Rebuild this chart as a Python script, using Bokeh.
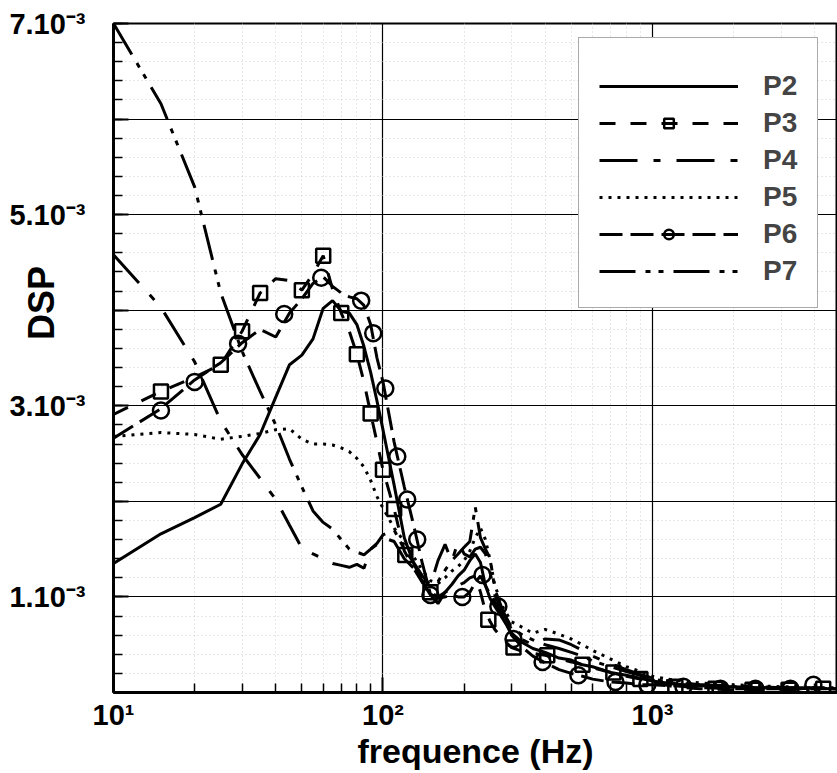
from bokeh.plotting import figure
from bokeh.models import Range1d, FixedTicker, Legend, LegendItem
from bokeh.embed import file_html
from bokeh.resources import INLINE

# ---------------- data (DSP values in units of 1e-3) ----------------
freq_hz = [10, 15, 20, 25, 30, 35, 40, 45, 50, 55, 60, 65, 70, 75, 80, 85, 90, 95, 100,
           110, 120, 130, 140, 150, 160, 170, 180, 190, 200, 210, 220, 230, 240, 250, 260,
           280, 300, 330, 360, 400, 450, 500, 550, 600, 700, 800, 900, 1000,
           1200, 1500, 2000, 2500, 3000, 3500, 4000, 4500, 5000]

dsp_p2 = [1.35, 1.66, 1.83, 1.97, 2.39, 2.70, 3.09, 3.43, 3.53, 3.70, 4.02, 4.10, 3.99, 3.97, 3.85, 3.62, 3.35, 3.05, 2.75,
          2.17, 1.62, 1.35, 1.16, 1.02, 0.93, 1.05, 1.13, 1.22, 1.28, 1.38, 1.45, 1.36, 1.12, 0.98, 0.90,
          0.76, 0.62, 0.52, 0.46, 0.42, 0.36, 0.34, 0.29, 0.27, 0.21, 0.18, 0.15, 0.12,
          0.09, 0.07, 0.06, 0.05, 0.05, 0.04, 0.05, 0.04, 0.04]

dsp_p3 = [2.91, 3.15, 3.30, 3.43, 3.78, 4.18, 4.33, 4.31, 4.21, 4.38, 4.57, 4.22, 3.97, 3.78, 3.54, 3.25, 2.92, 2.62, 2.33,
          1.92, 1.48, 1.30, 1.15, 1.05, 1.00, 1.05, 1.08, 1.12, 1.15, 1.20, 1.22, 1.05, 0.85, 0.74, 0.66,
          0.55, 0.47, 0.43, 0.41, 0.39, 0.35, 0.32, 0.29, 0.26, 0.21, 0.17, 0.14, 0.11,
          0.06, 0.04, 0.03, 0.03, 0.03, 0.03, 0.04, 0.04, 0.04]

dsp_p4 = [4.58, 4.03, 3.46, 2.84, 2.49, 2.24, 2.02, 1.75, 1.51, 1.45, 1.40, 1.35, 1.33, 1.31, 1.34, 1.30, 1.50, 1.55, 1.62,
          1.58, 1.40, 1.30, 1.18, 1.12, 1.38, 1.55, 1.37, 1.58, 1.45, 1.42, 1.50, 1.52, 1.45, 1.25, 1.02,
          0.82, 0.66, 0.55, 0.50, 0.56, 0.55, 0.50, 0.44, 0.38, 0.30, 0.24, 0.19, 0.15,
          0.11, 0.08, 0.07, 0.06, 0.05, 0.05, 0.05, 0.04, 0.04]

dsp_p5 = [2.68, 2.72, 2.70, 2.65, 2.68, 2.71, 2.75, 2.76, 2.65, 2.60, 2.60, 2.59, 2.56, 2.52, 2.45, 2.36, 2.22, 2.05, 1.93,
          1.72, 1.58, 1.42, 1.28, 1.17, 1.14, 1.20, 1.27, 1.32, 1.38, 1.48, 1.62, 1.72, 1.60, 1.38, 1.12,
          0.88, 0.74, 0.68, 0.62, 0.66, 0.61, 0.56, 0.50, 0.44, 0.35, 0.27, 0.22, 0.17,
          0.13, 0.10, 0.08, 0.07, 0.06, 0.06, 0.05, 0.05, 0.05]

dsp_p6 = [2.66, 2.97, 3.27, 3.45, 3.66, 3.80, 3.72, 3.97, 4.12, 4.28, 4.35, 4.25, 4.18, 4.14, 4.12, 4.05, 3.85, 3.50, 3.25,
          2.62, 2.15, 1.75, 1.35, 1.03, 0.99, 1.00, 1.02, 1.00, 1.00, 1.05, 1.15, 1.22, 1.12, 1.02, 0.95,
          0.78, 0.60, 0.47, 0.38, 0.31, 0.24, 0.20, 0.17, 0.14, 0.11, 0.10, 0.08, 0.08,
          0.07, 0.05, 0.04, 0.04, 0.04, 0.04, 0.05, 0.04, 0.04]

dsp_p7 = [7.00, 6.16, 5.29, 4.18, 3.57, 3.15, 2.80, 2.44, 2.15, 1.90, 1.78, 1.71, 1.60, 1.50, 1.47, 1.44, 1.50, 1.56, 1.65,
          1.70, 1.50, 1.36, 1.22, 1.12, 1.16, 1.28, 1.38, 1.45, 1.52, 1.58, 1.94, 1.62, 1.50, 1.40, 1.08,
          0.84, 0.68, 0.60, 0.55, 0.50, 0.46, 0.42, 0.38, 0.33, 0.27, 0.22, 0.18, 0.14,
          0.10, 0.08, 0.06, 0.05, 0.05, 0.05, 0.05, 0.04, 0.04]

p3_marker_hz = [15, 25, 30, 35, 50, 60, 70, 80, 90, 100, 110, 121, 150, 246, 305, 407, 550, 716, 902, 1216, 1713, 2350, 3200, 4300]
p3_marker_dsp = [3.15, 3.43, 3.78, 4.18, 4.21, 4.57, 3.97, 3.54, 2.92, 2.33, 1.92, 1.44, 1.05, 0.76, 0.47, 0.39, 0.29, 0.21, 0.14, 0.06, 0.04, 0.03, 0.03, 0.04]

p6_marker_hz = [15, 20, 29, 43, 59, 83, 92, 102, 113, 123, 134, 150, 197, 234, 268, 305, 391, 531, 729, 957, 1303, 1788, 2410, 3250, 3955]
p6_marker_dsp = [2.95, 3.25, 3.65, 3.96, 4.34, 4.10, 3.76, 3.18, 2.47, 2.02, 1.60, 1.02, 1.00, 1.23, 0.90, 0.56, 0.32, 0.18, 0.11, 0.08, 0.06, 0.04, 0.04, 0.04, 0.08]

x_ticks = [10, 100, 1000]
x_tick_labels = ["10\u00b9", "10\u00b2", "10\u00b3"]
y_ticks = [0, 1, 2, 3, 4, 5, 6, 7]
y_tick_labels = ["", "1.10\u207b\u00b3", "", "3.10\u207b\u00b3", "", "5.10\u207b\u00b3", "", "7.10\u207b\u00b3"]
series_names = ["P2", "P3", "P4", "P5", "P6", "P7"]
y_title = "\u00a0" * 11 + "DSP"

FONT = "Liberation Sans"

p = figure(width=837, height=772, x_axis_type="log",
           x_range=Range1d(10, 4860), y_range=Range1d(0, 7),
           output_backend="svg", toolbar_location=None,
           min_border_left=113, min_border_right=0, min_border_top=23, min_border_bottom=80)

x_minor = [m * d for d in (10, 100, 1000) for m in range(2, 10)]
y_minor = [i * 0.2 for i in range(36)]
p.xaxis.ticker = FixedTicker(ticks=x_ticks, minor_ticks=x_minor)
p.yaxis.ticker = FixedTicker(ticks=y_ticks, minor_ticks=y_minor)
p.xaxis.major_label_overrides = dict(zip(x_ticks, x_tick_labels))
p.yaxis.major_label_overrides = dict(zip(y_ticks, y_tick_labels))

for ax in (p.xaxis, p.yaxis):
    ax.axis_line_width = 3
    ax.axis_line_color = "black"
    ax.major_tick_in = 15
    ax.major_tick_out = 0
    ax.minor_tick_in = 9
    ax.minor_tick_out = 0
    ax.major_tick_line_width = 2
    ax.minor_tick_line_width = 1.5
    ax.major_label_text_font = FONT
    ax.major_label_text_font_style = "bold"
    ax.major_label_text_font_size = "29px"
    ax.major_label_text_color = "black"
    ax.axis_label_text_font = FONT
    ax.axis_label_text_font_style = "bold"
    ax.axis_label_text_font_size = "34px"
    ax.axis_label_text_color = "black"

p.xaxis.axis_label = "frequence (Hz)"
p.xaxis.major_label_standoff = 6
p.xaxis.axis_label_standoff = -2
p.yaxis.axis_label = y_title
p.yaxis.axis_label_text_font_size = "36px"
p.yaxis.major_label_standoff = 28
p.yaxis.axis_label_standoff = -56

p.xgrid.grid_line_color = "black"
p.ygrid.grid_line_color = "black"
p.xgrid.grid_line_width = 1.2
p.ygrid.grid_line_width = 1.2
p.xgrid.minor_grid_line_color = "#cfcfcf"
p.ygrid.minor_grid_line_color = "#cfcfcf"
p.xgrid.minor_grid_line_dash = "1 3"
p.ygrid.minor_grid_line_dash = "1 3"

p.outline_line_color = "black"
p.outline_line_width = 2
p.background_fill_color = "white"
p.border_fill_color = "white"

LW = 3
r2 = p.line(freq_hz, dsp_p2, line_color="black", line_width=LW)
r3 = p.line(freq_hz, dsp_p3, line_color="black", line_width=LW, line_dash="16 15")
m3 = p.scatter(p3_marker_hz, p3_marker_dsp, marker="square", size=14, fill_color=None,
               line_color="black", line_width=2.5)
r4 = p.line(freq_hz, dsp_p4, line_color="black", line_width=LW, line_dash="38 16 7 16")
r5 = p.line(freq_hz, dsp_p5, line_color="black", line_width=LW, line_dash="3 6")
r6 = p.line(freq_hz, dsp_p6, line_color="black", line_width=LW, line_dash="23 8")
m6 = p.scatter(p6_marker_hz, p6_marker_dsp, marker="circle", size=16, fill_color=None,
               line_color="black", line_width=2.5)
r7 = p.line(freq_hz, dsp_p7, line_color="black", line_width=LW, line_dash="36 10 5 8 5 10")

items = [
    LegendItem(label=series_names[0], renderers=[r2]),
    LegendItem(label=series_names[1], renderers=[r3, m3]),
    LegendItem(label=series_names[2], renderers=[r4]),
    LegendItem(label=series_names[3], renderers=[r5]),
    LegendItem(label=series_names[4], renderers=[r6, m6]),
    LegendItem(label=series_names[5], renderers=[r7]),
]
legend = Legend(items=items, location=(465, 384))
legend.title = " "
legend.title_text_font_size = "10px"
legend.title_standoff = 1
legend.label_text_font = FONT
legend.label_text_font_style = "bold"
legend.label_text_font_size = "28px"
legend.glyph_width = 139
legend.glyph_height = 24
legend.label_standoff = 25
legend.label_width = 30
legend.spacing = 5
legend.padding = 20
legend.margin = 0
legend.border_line_color = "#555555"
legend.border_line_width = 1.5
legend.background_fill_color = "white"
legend.background_fill_alpha = 1.0
p.add_layout(legend, "center")

open("out.html", "w").write(file_html(p, INLINE))
